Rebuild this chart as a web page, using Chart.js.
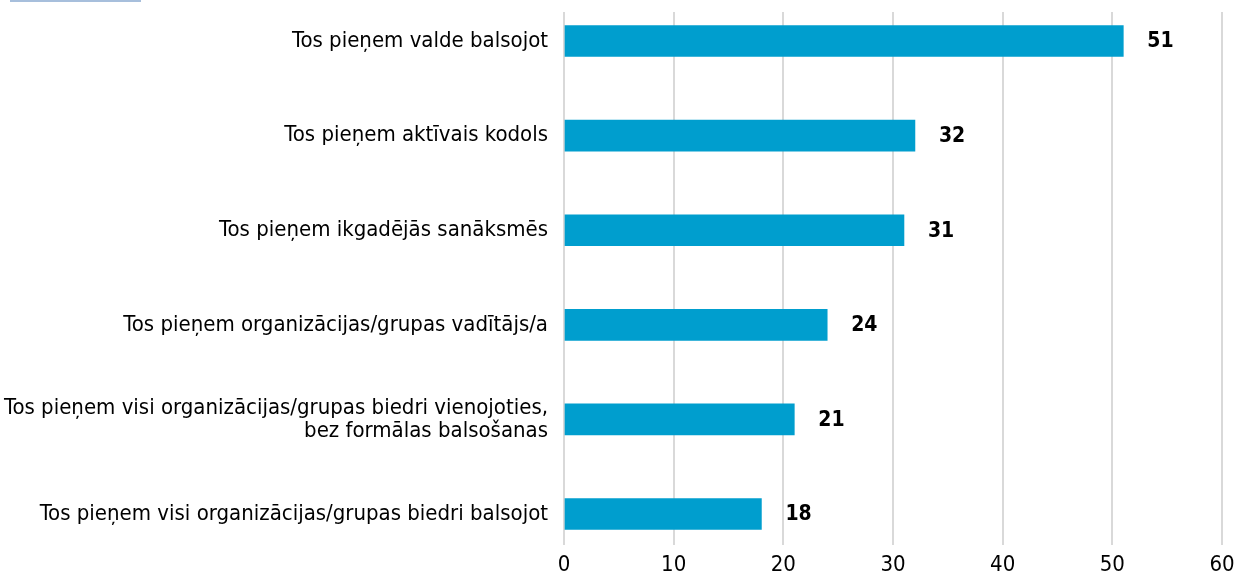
<!DOCTYPE html>
<html>
<head>
<meta charset="utf-8">
<script src="https://cdn.jsdelivr.net/npm/chart.js@4"></script>
<style>
  html, body { margin: 0; padding: 0; background: #fff; }
  #wrap { position: relative; width: 1236px; height: 579px; }
  #topline { position: absolute; left: 10px; top: 0; width: 131px; height: 2px; background: #a7bfdc; }
</style>
</head>
<body>
<div id="wrap">
  <div id="topline"></div>
  <canvas id="chart" width="1236" height="579"></canvas>
</div>
<script>
// categories (top to bottom) and their values
const categories = [
    'Tos pieņem valde balsojot',
    'Tos pieņem aktīvais kodols',
    'Tos pieņem ikgadējās sanāksmēs',
    'Tos pieņem organizācijas/grupas vadītājs/a',
    ['Tos pieņem visi organizācijas/grupas biedri vienojoties,', 'bez formālas balsošanas'],
    'Tos pieņem visi organizācijas/grupas biedri balsojot'
];
const values = [51, 32, 31, 24, 21, 18];
const xTicks = [0, 10, 20, 30, 40, 50, 60];

const FONT = "'Liberation Sans Narrow', 'DejaVu Sans Condensed', 'Roboto Condensed', sans-serif";
const BAR_COLOR = '#009ece';

// value labels drawn next to the bar ends
const valueLabels = {
    id: 'valueLabels',
    afterDatasetsDraw(chart) {
        const ctx = chart.ctx;
        const meta = chart.getDatasetMeta(0);
        ctx.save();
        ctx.font = 'bold 21px ' + FONT;
        ctx.fillStyle = '#000';
        ctx.textAlign = 'left';
        ctx.textBaseline = 'middle';
        meta.data.forEach((bar, i) => {
            ctx.fillText(String(values[i]), bar.x + 24, bar.y + 1);
        });
        ctx.restore();
    }
};

new Chart(document.getElementById('chart'), {
    type: 'bar',
    data: {
        datasets: [{
            data: values.map((v, i) => ({ x: v, y: i })),
            backgroundColor: BAR_COLOR,
            barThickness: 31
        }]
    },
    options: {
        indexAxis: 'y',
        responsive: false,
        animation: false,
        layout: { padding: { top: 12, right: 14, left: 0, bottom: 0 } },
        plugins: {
            legend: { display: false },
            tooltip: { enabled: false }
        },
        scales: {
            x: {
                type: 'linear',
                min: 0,
                max: 60,
                afterBuildTicks: s => { s.ticks = xTicks.map(v => ({ value: v })); },
                afterFit: s => { s.height = 34; s.paddingLeft = 0; s.paddingRight = 0; },
                grid: { color: '#d9d9d9', lineWidth: 2, drawTicks: false },
                border: { display: false },
                ticks: { color: '#000', font: { family: FONT, size: 22 }, padding: 7 }
            },
            y: {
                type: 'linear',
                reverse: true,
                offset: false,
                min: -0.307,
                max: 5.328,
                afterBuildTicks: s => { s.ticks = categories.map((c, i) => ({ value: i })); },
                afterFit: s => { s.width = 564; s.paddingTop = 0; s.paddingBottom = 0; },
                grid: { display: false, drawTicks: false },
                border: { display: false },
                ticks: {
                    color: '#000',
                    font: { family: FONT, size: 22, lineHeight: 1.05 },
                    padding: 16,
                    autoSkip: false,
                    callback: v => categories[v]
                }
            }
        }
    },
    plugins: [valueLabels]
});
</script>
</body>
</html>
